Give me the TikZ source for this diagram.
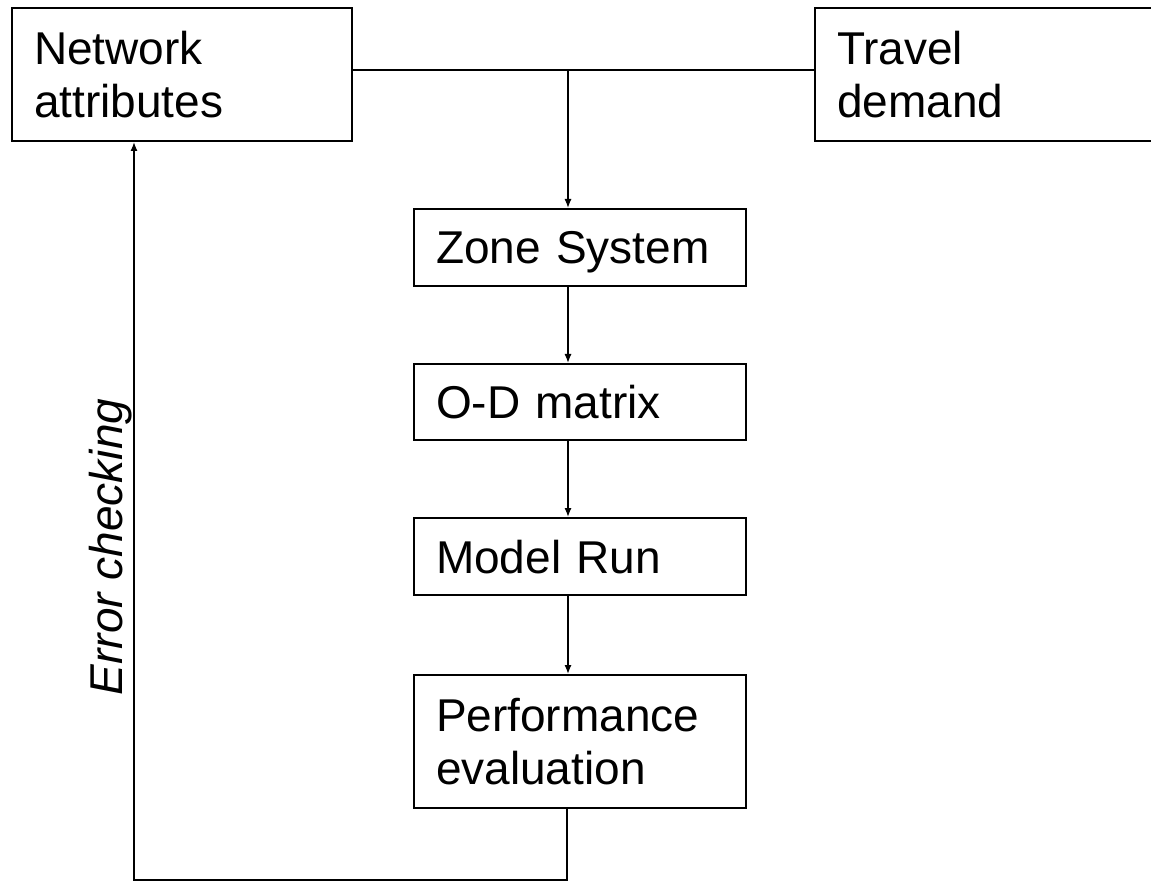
\documentclass[tikz,border=0pt]{standalone}
\usepackage{fontspec}
\setmainfont{Liberation Sans}
\usetikzlibrary{arrows.meta}
\begin{document}
\begin{tikzpicture}[x=1pt,y=1pt,
  stage/.style={draw, line width=2pt, rectangle, anchor=north west, align=left,
    inner xsep=22pt, inner ysep=0pt, text height=33pt,
    font=\fontsize{46}{53}\selectfont},
  oneline/.style={stage, text depth=0pt, minimum height=77pt},
  twoline/.style={stage, text depth=53pt, minimum height=133pt},
  flow/.style={line width=1.3pt, -{Latex[length=9pt,width=7pt]}},
  link/.style={line width=1.3pt}]
\useasboundingbox (0,0) rectangle (1151,-882);

% input boxes
\node[twoline, text width=296pt] (na) at (11,-7) {Network\\attributes};
\node[twoline, text width=295pt] (td) at (814,-7) {Travel\\demand};

% modelling chain
\node[oneline, text width=288pt] (zone) at (413,-208) {Zone System};
\node[oneline, text width=288pt, minimum height=76pt] (od) at (413,-363) {O-D matrix};
\node[oneline, text width=288pt] (run) at (413,-517) {Model Run};
\node[twoline, text width=288pt] (perf) at (413,-674) {Performance\\evaluation};

% junction points
\coordinate (join) at (568,-70);
\coordinate (loopR) at (567,-880);
\coordinate (loopL) at (134,-880);

% connectors
\draw[link] (na.east |- join) -- (td.west |- join);
\draw[flow] (join) -- (join |- zone.north);
\draw[flow] (zone.south -| join) -- (od.north -| join);
\draw[flow] (od.south -| join) -- (run.north -| join);
\draw[flow] (run.south -| join) -- (perf.north -| join);
\draw[flow] (perf.south -| loopR) -- (loopR) -- (loopL) -- (na.south -| loopL);

% feedback label
\node[rotate=90, anchor=base, inner sep=0pt,
  font=\fontsize{46}{53}\selectfont\itshape] (err) at (122,-547) {Error checking};
\end{tikzpicture}
\end{document}
